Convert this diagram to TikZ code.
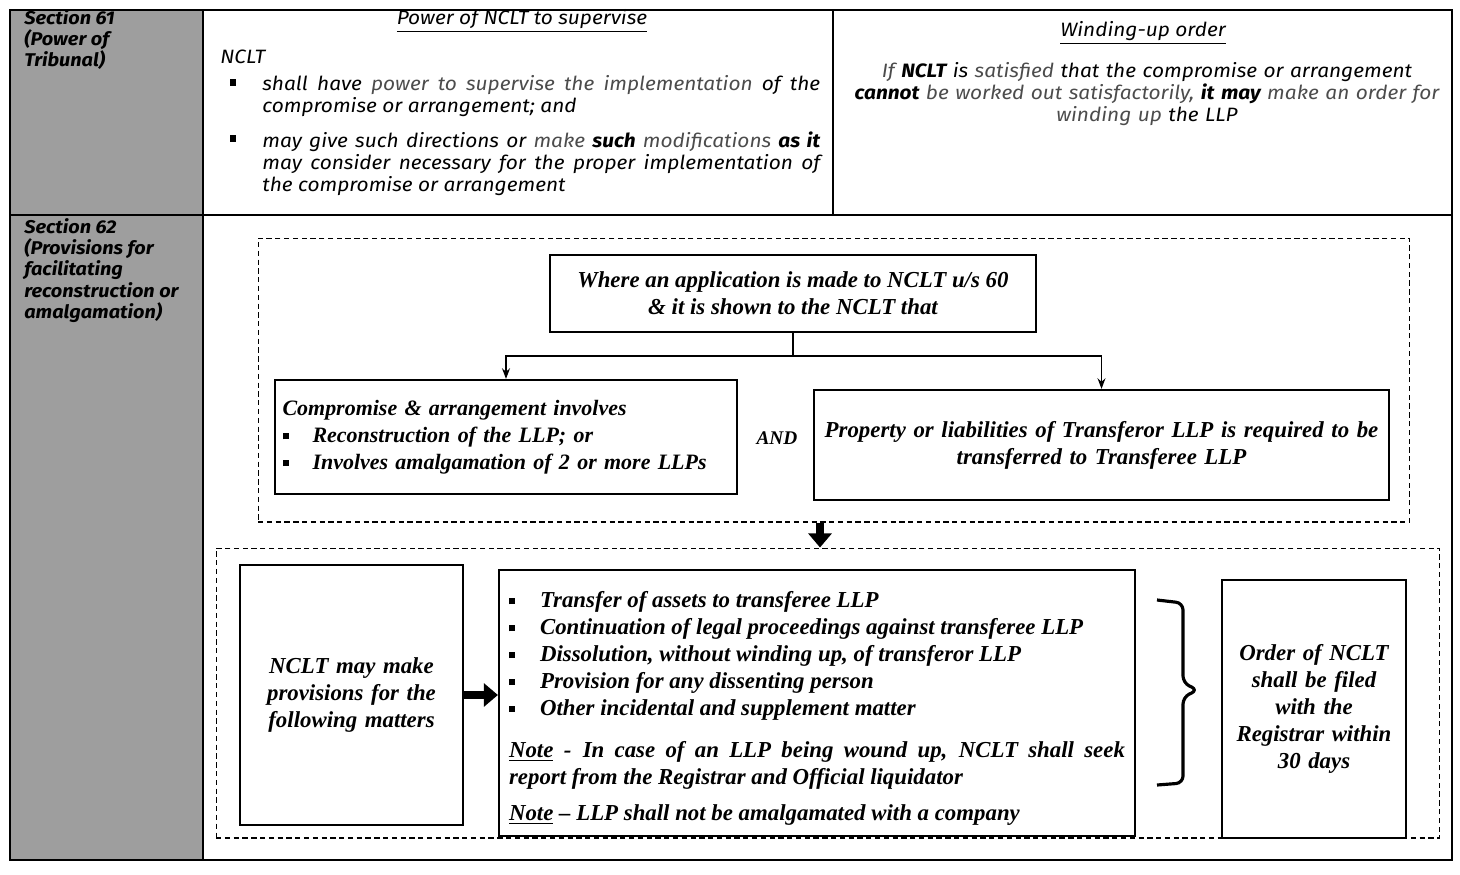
\documentclass[tikz,border=0pt]{standalone}
\usepackage{fontspec}
\usetikzlibrary{arrows.meta,calc}
\newfontfamily\handfont{Fira Sans}[FakeStretch=1.08]
\newfontfamily\bookfont{Liberation Serif}
\newcommand{\lite}[1]{{\mdseries\color{black!70}#1}}
\newcommand{\sqbullet}{\raisebox{0.3ex}{\rule{3.6pt}{3.6pt}}}
\newcommand{\sqitem}[1][0.62cm]{\par\noindent\hangindent=#1\hangafter=1\makebox[#1][l]{\sqbullet}}
\hyphenpenalty=10000
\exhyphenpenalty=10000

\tikzset{
  grid line/.style={line width=0.9pt},
  shade col/.style={fill=black!38},
  seclabel/.style={anchor=north west, align=left, inner sep=0pt,
    font=\handfont\itshape\bfseries\fontsize{10.5}{12.1}\selectfont},
  handtext/.style={inner sep=0pt, font=\handfont\itshape\fontsize{11}{12.6}\selectfont},
  box/.style={draw, line width=1.3pt, inner sep=0.2cm,
    font=\bookfont\bfseries\itshape\fontsize{13}{15.3}\selectfont},
  dashframe/.style={draw, densely dashed, line width=0.6pt, inner sep=0pt},
  thin arrow/.style={-{Stealth[length=6pt,width=4.5pt]}, line width=0.8pt},
  fat arrow/.style={-{Triangle[length=8pt,width=13pt]}, line width=5pt},
}

\begin{document}
\begin{tikzpicture}[x=0.02cm, y=-0.02cm]
\useasboundingbox (0,0) rectangle (1460,875);

% table frame and shaded first column
\fill[shade col] (10,10) rectangle (203,860);
\draw[grid line] (10,10) rectangle (1452,860);
\draw[grid line] (203,10) -- (203,860);
\draw[grid line] (10,215) -- (1452,215);
\draw[grid line] (833,10) -- (833,215);

% Section 61
\node[seclabel] (sec61) at (24,9) {Section 61\\(Power of\\Tribunal)};
\node[handtext, anchor=base] (pwrhead) at (522,25) {\underline{Power of NCLT to supervise}};
\node[handtext, anchor=base west] (nclt) at (220,64) {NCLT};
\node[handtext] (bul1) at (233,84) {\sqbullet};
\node[handtext, anchor=north west, text width=11.16cm, align=justify] (item1) at (262,75)
  {shall have \lite{power to supervise the implementation} of the\linebreak compromise or arrangement; and};
\node[handtext] (bul2) at (233,140) {\sqbullet};
\node[handtext, anchor=north west, text width=11.16cm, align=justify] (item2) at (262,131)
  {may give such directions or \lite{make} \textbf{such} \lite{modifications} \textbf{as it}\linebreak may consider necessary for the proper implementation of\linebreak the compromise or arrangement};

\node[handtext, anchor=base] (windhead) at (1143,37) {\underline{Winding-up order}};
\node[handtext, anchor=north, text width=12.6cm, align=center] (windtext) at (1147,62)
  {\lite{If} \textbf{NCLT} is \lite{satisfied} that the compromise or arrangement\\
   \textbf{cannot} \lite{be worked out satisfactorily,} \textbf{it may} \lite{make an order for}\\
   \lite{winding up} the LLP};

% Section 62
\node[seclabel] (sec62) at (24,218) {Section 62\\(Provisions for\\facilitating\\reconstruction or\\amalgamation)};

\node[dashframe, minimum width=23.04cm, minimum height=5.68cm] (grp1) at (834,380) {};
\node[box, minimum width=9.72cm, minimum height=1.54cm, align=center] (apply) at (793,293.5)
  {Where an application is made to NCLT u/s 60\\\& it is shown to the NCLT that};
\node[box, minimum width=9.24cm, minimum height=2.28cm, inner sep=0.15cm, text width=8.94cm, align=left,
  font=\bookfont\bfseries\itshape\fontsize{12.5}{15.3}\selectfont] (invol) at (506,437)
  {Compromise \& arrangement involves\sqitem[0.6cm]Reconstruction of the LLP; or\sqitem[0.6cm]Involves amalgamation of 2 or more LLPs};
\node[font=\bookfont\bfseries\itshape\fontsize{11}{12}\selectfont] (and) at (777,438) {AND};
\node[box, minimum width=11.46cm, minimum height=2.2cm, text width=11.1cm, align=center] (prop) at (1101.5,445)
  {Property or liabilities of Transferor LLP is required to be\\transferred to Transferee LLP};

\coordinate (split) at ($(apply.south)+(0,23)$);
\draw[line width=0.8pt] (apply.south) -- (split);
\draw[thin arrow] (split) -| (invol.north);
\draw[thin arrow] (split) -| (prop.north);

\node[dashframe, minimum width=24.48cm, minimum height=5.8cm] (grp2) at (828,693) {};
\coordinate (dropx) at (820,0);
\draw[fat arrow] (grp1.south -| dropx) -- (grp2.north -| dropx);

\node[box, minimum width=4.46cm, minimum height=5.2cm, text width=3.9cm, align=center] (prov) at (351.5,695)
  {NCLT may make\\provisions for the\\following matters};
\node[box, minimum width=12.72cm, minimum height=5.32cm, text width=12.32cm, align=justify] (matters) at (817,703)
  {\sqitem Transfer of assets to transferee LLP
   \sqitem Continuation of legal proceedings against transferee LLP
   \sqitem Dissolution, without winding up, of transferor LLP
   \sqitem Provision for any dissenting person
   \sqitem Other incidental and supplement matter
   \par\vspace{9pt}\noindent\underline{Note} -\enspace In case of an LLP being wound up, NCLT shall seek\linebreak report from the Registrar and Official liquidator
   \par\vspace{5pt}\noindent\underline{Note} \textendash\ LLP shall not be amalgamated with a company};
\draw[fat arrow] (prov.east) -- (prov.east -| matters.west);

% bracket
\draw[line width=1.8pt, rounded corners=4pt] (1157,600) -- (1183,603) -- (1183,683) -- (1198,690)
  -- (1183,697) -- (1183,783) -- (1157,785);

\node[box, minimum width=3.68cm, minimum height=5.16cm, text width=3.2cm, align=center] (order) at (1314,709)
  {Order of NCLT\\shall be filed\\with the\\Registrar within\\30 days};
\end{tikzpicture}
\end{document}
